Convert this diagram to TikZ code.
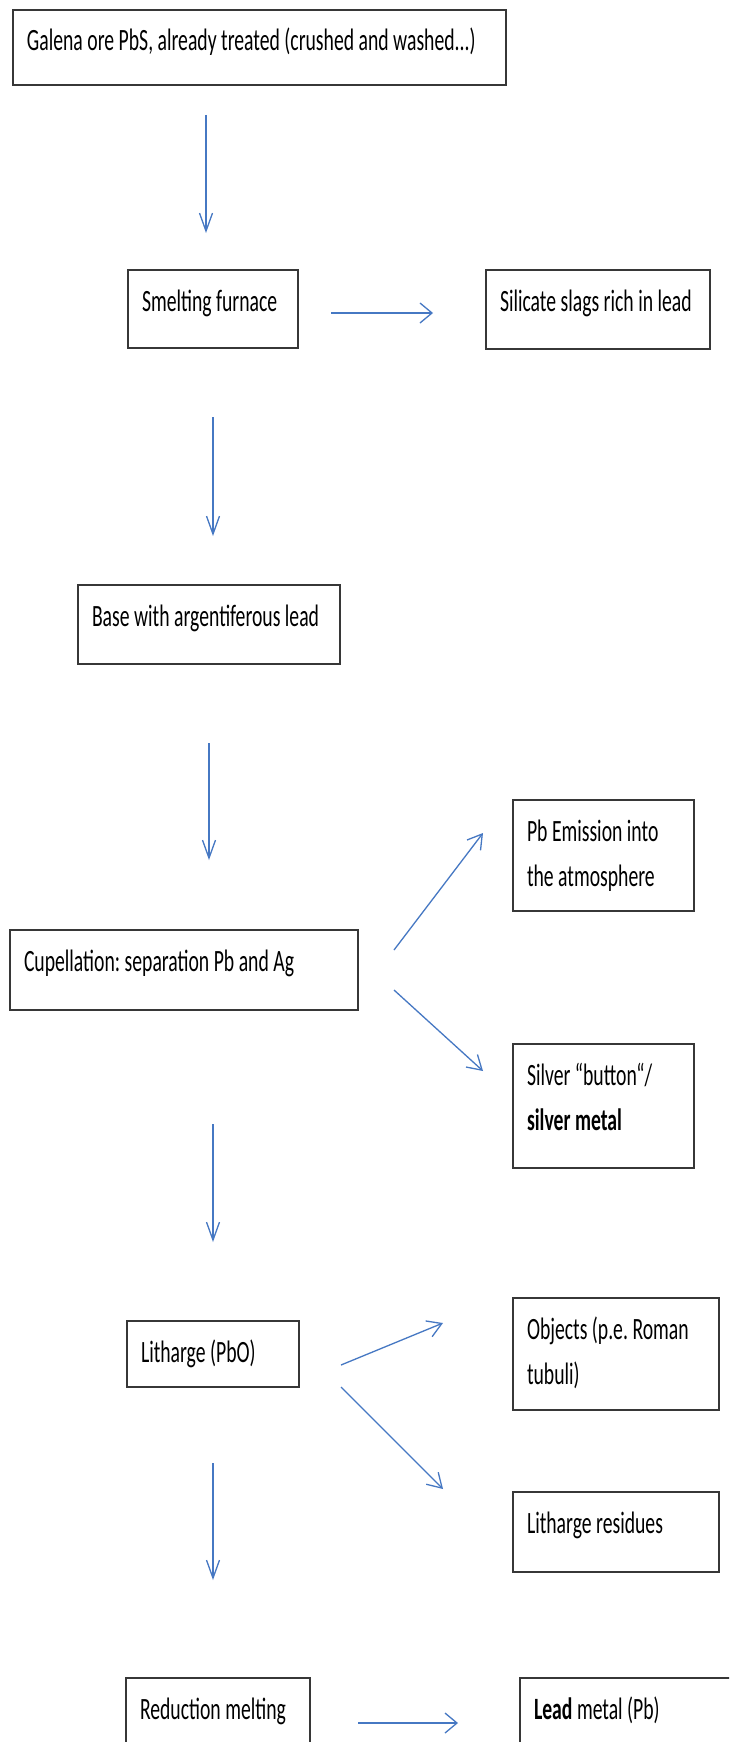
\documentclass[tikz,border=0pt]{standalone}
\usepackage{fontspec}
\setmainfont{Carlito}[FakeStretch=0.635]
\usepackage{tikz}
\usetikzlibrary{arrows.meta}
\definecolor{arrowblue}{RGB}{70,120,195}
\definecolor{boxline}{RGB}{55,55,55}
\hyphenpenalty=10000
\newcommand{\boxfont}{\fontsize{31}{45}\selectfont}
\newcommand{\tightspace}{\spaceskip=4.5pt\xspaceskip=4.5pt\relax}

\begin{document}
\begin{tikzpicture}[x=1pt, y=-1pt,
    box/.style={draw=boxline, line width=2pt, anchor=north west, align=left,
        inner xsep=14pt, inner ysep=0pt, text height=41pt, font=\boxfont,
        execute at begin node=\tightspace},
    flow/.style={arrowblue, line width=1.3pt},
    flowdown/.style={flow, -{Straight Barb[length=18pt,width=13pt]}},
    flowside/.style={flow, -{Straight Barb[length=12pt,width=20pt]}},
    flowdiag/.style={flow, -{Straight Barb[length=14pt,width=17pt]}}]
    \useasboundingbox (0,0) rectangle (729,1742);
    \fill[white] (0,0) rectangle (729,1742);
    \clip (0,0) rectangle (729,1742);

    \node[box, text width=465pt, text depth=34pt] (galena) at (12,9) {Galena ore PbS, already treated (crushed and washed...)};
    \node[box, text width=142pt, text depth=37pt] (smelt) at (127,269) {Smelting furnace};
    \node[box, text width=196pt, text depth=38pt] (slag) at (485,269) {Silicate slags rich in lead};
    \node[box, text width=234pt, text depth=38pt] (base) at (77,584) {Base with argentiferous lead};
    \node[box, text width=320pt, text depth=39pt] (cup) at (9,929) {Cupellation: separation Pb and Ag};
    \node[box, text width=153pt, text depth=70pt] (pbem) at (512,799) {Pb Emission into\\the atmosphere};
    \node[box, text width=153pt, text depth=83pt] (silver) at (512,1043) {Silver “button“/\\\textbf{silver metal}};
    \node[box, text width=144pt, text depth=25pt] (lith) at (126,1320) {Litharge (PbO)};
    \node[box, text width=178pt, text depth=71pt] (objects) at (512,1297) {Objects (p.e. Roman\\tubuli)};
    \node[box, text width=178pt, text depth=39pt] (resid) at (512,1491) {Litharge residues};
    \node[box, text width=156pt, text depth=49pt] (redu) at (125,1677) {Reduction melting};
    \node[box, text width=204pt, text depth=49pt] (lead) at (519,1677) {\textbf{Lead} metal (Pb)};

    \draw[flowdown, shorten <=29pt, shorten >=36pt] ([xshift=-7pt]smelt.north |- galena.south) -- ([xshift=-7pt]smelt.north);
    \draw[flowside, shorten <=32pt, shorten >=52pt] ([yshift=-4pt]smelt.east) -- ([yshift=-4pt]smelt.east -| slag.west);
    \draw[flowdown, shorten <=68pt, shorten >=48pt] (smelt.south) -- (smelt.south |- base.north);
    \draw[flowdown, shorten <=78pt, shorten >=69pt] (base.south) -- (base.south |- cup.north);
    \draw[flowdiag] ([shift={(35,-20)}]cup.east) -- ([shift={(-29,-22.5)}]pbem.west);
    \draw[flowdiag] ([shift={(35,20)}]cup.east) -- ([shift={(-29,-35)}]silver.west);
    \draw[flowdown, shorten <=113pt, shorten >=78pt] (lith.north |- cup.south) -- (lith.north);
    \draw[flowdiag] ([shift={(41,11)}]lith.east) -- ([shift={(-69,-31)}]objects.west);
    \draw[flowdiag] ([shift={(41,33)}]lith.east) -- ([shift={(-69,-43)}]resid.west);
    \draw[flowdown, shorten <=75pt, shorten >=97pt] (lith.south) -- (lith.south |- redu.north);
    \draw[flowside, shorten <=47pt, shorten >=61pt] (redu.east) -- (lead.west);
\end{tikzpicture}
\end{document}
